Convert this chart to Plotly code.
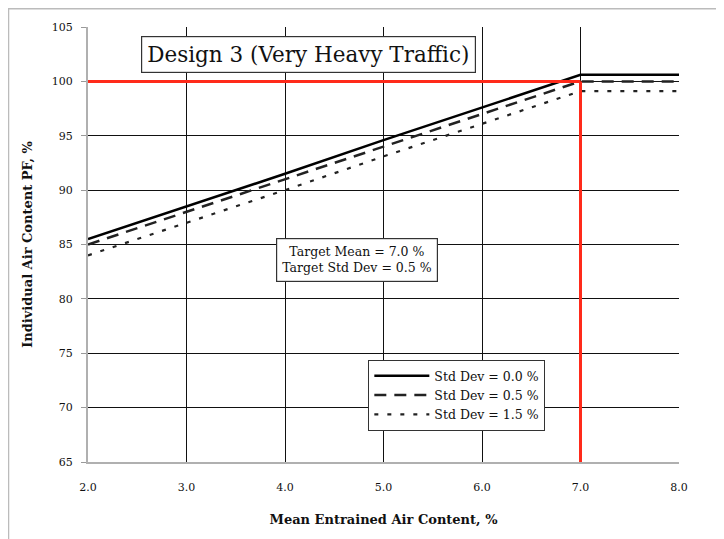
import plotly.graph_objects as go

# ---- data ----
mean_air = [2.0, 3.0, 4.0, 5.0, 6.0, 7.0, 8.0]
pf_sd00 = [85.5, 88.5, 91.5, 94.6, 97.6, 100.6, 100.6]
pf_sd05 = [85.0, 88.0, 91.0, 94.0, 97.0, 100.0, 100.0]
pf_sd15 = [84.0, 87.0, 90.0, 93.1, 96.1, 99.1, 99.1]
series_names = ["Std Dev = 0.0 %", "Std Dev = 0.5 %", "Std Dev = 1.5 %"]
target_mean = 7.0
target_pf = 100.0
x_ticks = [2.0, 3.0, 4.0, 5.0, 6.0, 7.0, 8.0]
x_tick_labels = ["2.0", "3.0", "4.0", "5.0", "6.0", "7.0", "8.0"]
y_ticks = [65, 70, 75, 80, 85, 90, 95, 100, 105]

SERIF = "DejaVu Serif, serif"

fig = go.Figure()
styles = [
    dict(color="black", width=2.5, dash="solid"),
    dict(color="#222", width=2.5, dash="12px,8px"),
    dict(color="#222", width=2.2, dash="4px,9px"),
]
for vals, name, st in zip([pf_sd00, pf_sd05, pf_sd15], series_names, styles):
    fig.add_trace(go.Scatter(x=mean_air, y=vals, mode="lines", name=name,
                             line=st, hoverinfo="skip"))

# red target lines
fig.add_shape(type="line", x0=mean_air[0], x1=target_mean, y0=target_pf, y1=target_pf,
              line=dict(color="#ff2a1a", width=3), layer="above")
fig.add_shape(type="line", x0=target_mean, x1=target_mean, y0=y_ticks[0], y1=target_pf,
              line=dict(color="#ff2a1a", width=3), layer="above")

# outer page frame (left and top edges only visible)
fig.add_shape(type="path", xref="paper", yref="paper",
              path="M -0.1345,-0.3 L -0.1345,1.042 L 1.3,1.042",
              line=dict(color="#bbbbbb", width=1.5), layer="below")

fig.add_annotation(x=0.0897, y=0.979, xref="paper", yref="paper", xanchor="left", yanchor="top",
                   text="Design 3 (Very Heavy Traffic)", showarrow=False,
                   font=dict(family=SERIF, size=21.5, color="#111"),
                   bgcolor="white", bordercolor="#333", borderwidth=1.2, borderpad=5)
fig.add_annotation(x=0.455, y=0.465, xref="paper", yref="paper", xanchor="center", yanchor="middle",
                   text="Target Mean = 7.0 %<br>Target Std Dev = 0.5 %", showarrow=False,
                   font=dict(family=SERIF, size=12.5, color="#111"),
                   bgcolor="white", bordercolor="#333", borderwidth=1.2, borderpad=5)

fig.update_layout(
    width=724, height=539,
    margin=dict(l=80, r=53, t=19, b=85),
    paper_bgcolor="white", plot_bgcolor="white",
    font=dict(family=SERIF, color="#111"),
    showlegend=True,
    legend=dict(x=0.474, y=0.2345, xanchor="left", yanchor="top",
                bgcolor="white", bordercolor="#333", borderwidth=1.2,
                font=dict(family=SERIF, size=12.5), tracegroupgap=0,
                itemwidth=55),
    xaxis=dict(range=[2.0, 8.0], tickvals=x_ticks, ticktext=x_tick_labels,
               showgrid=True, gridcolor="#111", gridwidth=1,
               showline=True, linecolor="#b0b0b0", linewidth=2,
               ticks="", ticklabelstandoff=14, zeroline=False, automargin=False,
               tickfont=dict(family=SERIF, size=11),
               title=dict(text="<b>Mean Entrained Air Content, %</b>", standoff=22,
                          font=dict(family=SERIF, size=13))),
    yaxis=dict(range=[65, 105], tickvals=y_ticks,
               showgrid=True, gridcolor="#111", gridwidth=1,
               showline=True, linecolor="#b0b0b0", linewidth=2,
               ticks="outside", ticklen=5, tickcolor="#999", zeroline=False, automargin=False,
               ticklabelstandoff=6,
               tickfont=dict(family=SERIF, size=11),
               title=dict(text="<b>Individual Air Content PF, %</b>", standoff=16,
                          font=dict(family=SERIF, size=13))),
)

fig.write_html("out.html")
